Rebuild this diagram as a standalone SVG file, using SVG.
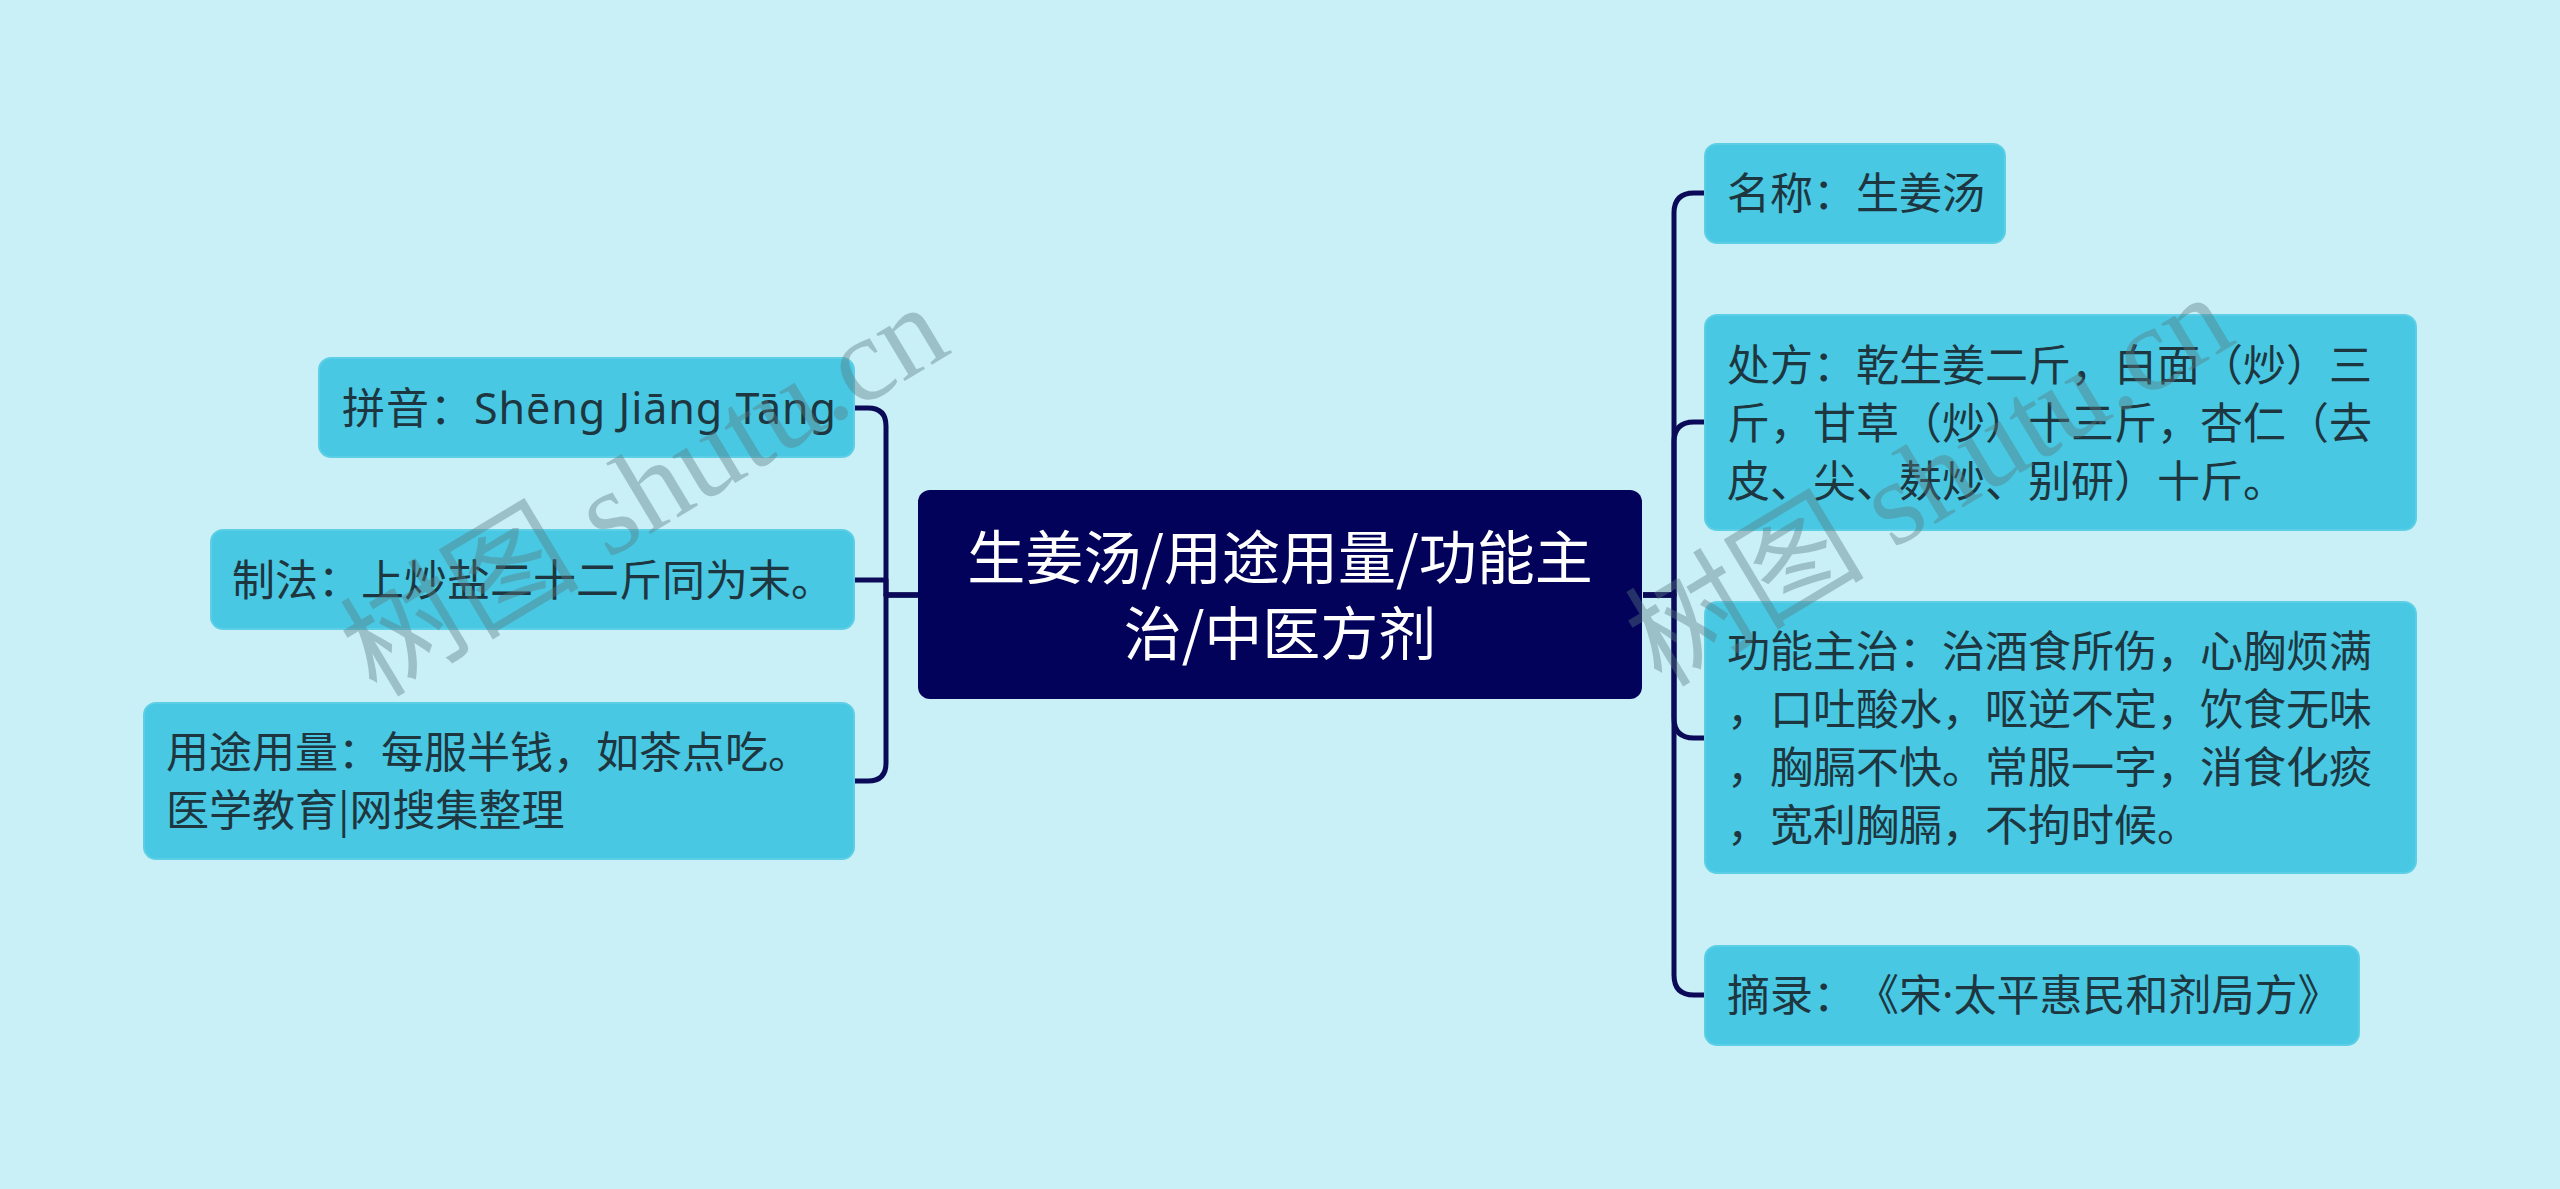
<svg xmlns="http://www.w3.org/2000/svg" width="2560" height="1189" viewBox="0 0 2560 1189">
<style>
.bg{fill:#caf0f7}
.node rect{fill:#48c8e2;stroke:#5ccfe6;stroke-width:2}
.node text{font-family:"Noto Sans","Noto Sans CJK SC",sans-serif;font-size:43px;fill:#1e3640;text-spacing-trim:space-all}
.node text.cjk{font-family:"Noto Sans CJK SC",sans-serif}
.root rect{fill:#02025a}
.root text{font-family:"Noto Sans CJK SC",sans-serif;font-size:58px;fill:#ffffff;text-anchor:middle}
.conn path{fill:none;stroke:#0a0a58;stroke-width:5;stroke-linejoin:round}
.wm{font-family:"Liberation Serif","Noto Sans CJK SC",serif;font-size:120px;fill:#5a7a80;opacity:0.4;text-anchor:middle}
</style>
<rect class="bg" x="0" y="0" width="2560" height="1189"/>
<g id="connectors" class="conn">
<path d="M918 595 H886 V426 Q886 408 868 408 H854"/>
<path d="M918 595 H886 V580 H854"/>
<path d="M918 595 H886 V763 Q886 781 868 781 H854"/>
<path d="M1643 595 H1674 V213 Q1674 193 1694 193 H1705"/>
<path d="M1643 595 H1674 V442 Q1674 422 1694 422 H1705"/>
<path d="M1643 595 H1674 V718 Q1674 738 1694 738 H1705"/>
<path d="M1643 595 H1674 V975 Q1674 995 1694 995 H1705"/>
</g>
<g id="root" class="root">
<rect x="918" y="490" width="724" height="209" rx="12"/>
<text x="1280" y="579">生姜汤/用途用量/功能主</text>
<text x="1280" y="655">治/中医方剂</text>
</g>
<g id="n-pinyin" class="node">
<rect x="319" y="358" width="535" height="99" rx="12"/>
<text x="342" y="424" textLength="494" lengthAdjust="spacing">拼音：Shēng Jiāng Tāng</text>
</g>
<g id="n-zhifa" class="node">
<rect x="211" y="530" width="643" height="99" rx="12"/>
<text x="232" y="596">制法：上炒盐二十二斤同为末。</text>
</g>
<g id="n-yongtu" class="node">
<rect x="144" y="703" width="710" height="156" rx="12"/>
<text x="166" y="768">用途用量：每服半钱，如茶点吃。</text>
<text class="cjk" x="166" y="826">医学教育|网搜集整理</text>
</g>
<g id="n-mingcheng" class="node">
<rect x="1705" y="144" width="300" height="99" rx="12"/>
<text x="1727" y="209">名称：生姜汤</text>
</g>
<g id="n-chufang" class="node">
<rect x="1705" y="315" width="711" height="215" rx="12"/>
<text x="1727" y="381">处方：乾生姜二斤，白面（炒）三</text>
<text x="1727" y="439">斤，甘草（炒）十三斤，杏仁（去</text>
<text x="1727" y="497">皮、尖、麸炒、别研）十斤。</text>
</g>
<g id="n-gongneng" class="node">
<rect x="1705" y="602" width="711" height="271" rx="12"/>
<text x="1727" y="667">功能主治：治酒食所伤，心胸烦满</text>
<text x="1727" y="725">，口吐酸水，呕逆不定，饮食无味</text>
<text x="1727" y="783">，胸膈不快。常服一字，消食化痰</text>
<text x="1727" y="841">，宽利胸膈，不拘时候。</text>
</g>
<g id="n-zhailu" class="node">
<rect x="1705" y="946" width="654" height="99" rx="12"/>
<text x="1727" y="1011">摘录：《宋·太平惠民和剂局方》</text>
</g>
<text class="wm" transform="translate(665 525) rotate(-31)">树图 shutu.cn</text>
<text class="wm" transform="translate(1950 515) rotate(-31)">树图 shutu.cn</text>
</svg>
